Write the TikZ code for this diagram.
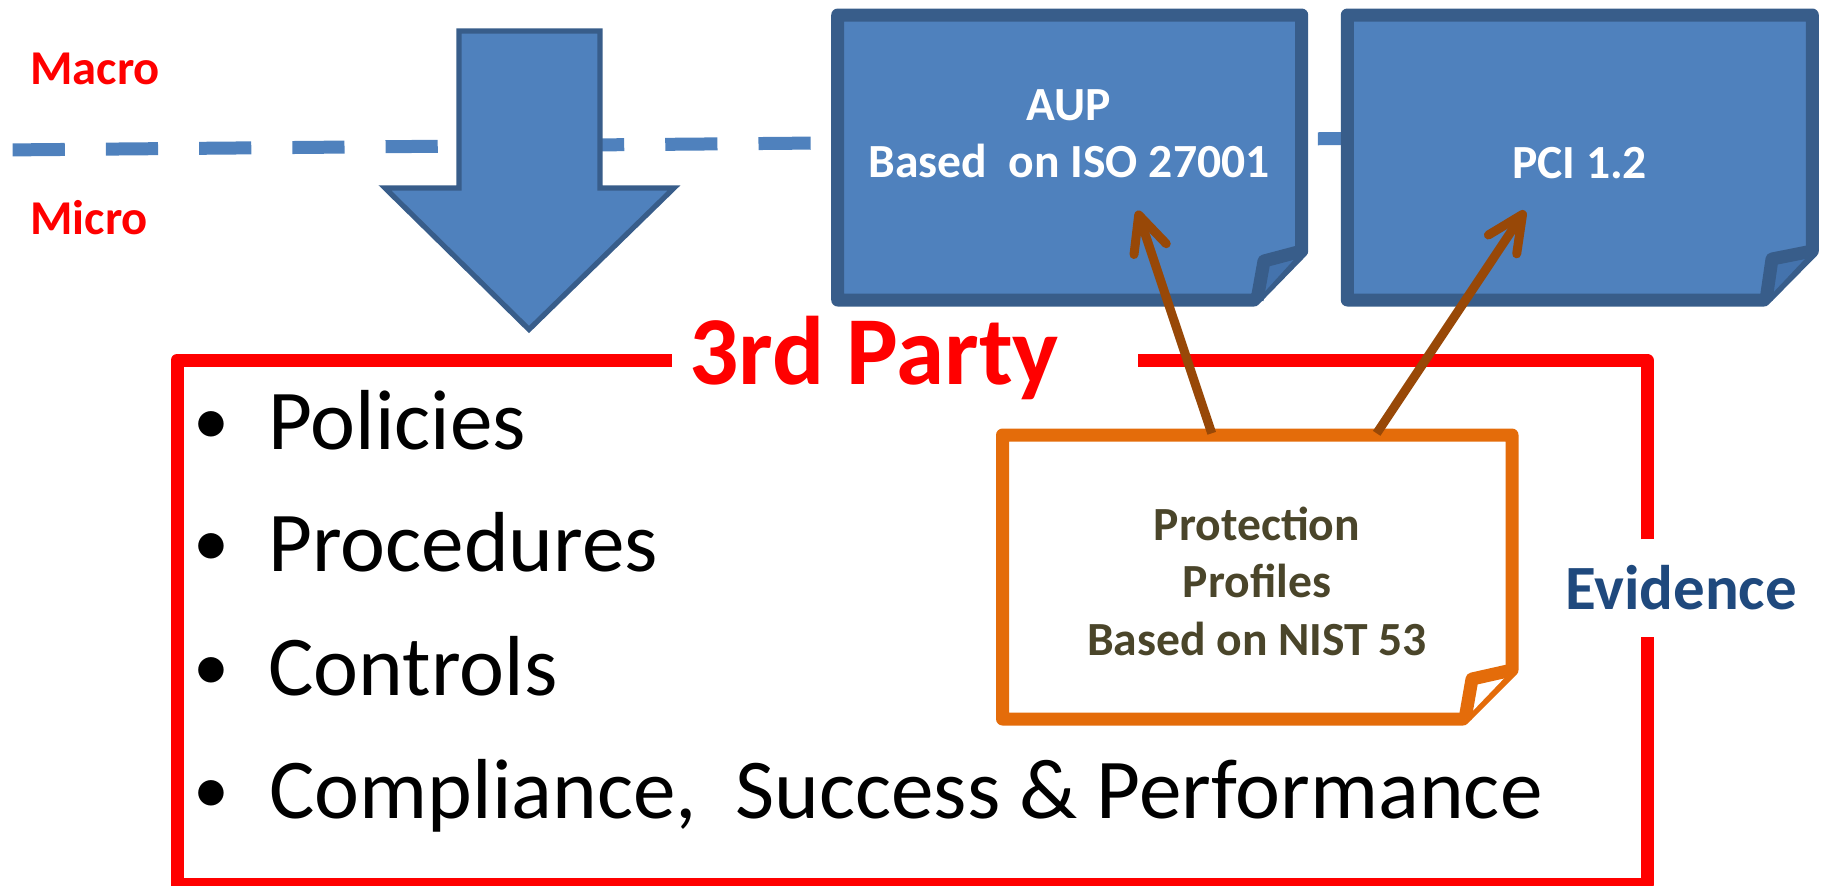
\documentclass[tikz,border=0pt]{standalone}
\usepackage{fontspec}
\setmainfont{Carlito}
\usetikzlibrary{arrows.meta}
\definecolor{noteblue}{HTML}{4F81BD}
\definecolor{noteedge}{HTML}{385D8A}
\definecolor{noteflap}{HTML}{4473AD}
\definecolor{ppedge}{HTML}{E46C0A}
\definecolor{linkbrown}{HTML}{984807}
\definecolor{pptext}{HTML}{4A452A}
\definecolor{evblue}{HTML}{1F497D}
\begin{document}
\begin{tikzpicture}[x=0.5pt,y=-0.5pt,
  lblsmall/.style={font=\fontsize{23.8}{28.75}\selectfont\bfseries, inner sep=0pt},
  redlbl/.style={lblsmall, text=red, anchor=base west},
  whitelbl/.style={lblsmall, text=white, anchor=base},
  pplbl/.style={lblsmall, text=pptext, anchor=base},
  notebody/.style={draw=noteedge, fill=noteblue, line width=6.5pt, line join=round},
  noteflapst/.style={draw=noteedge, fill=noteflap, line width=6.5pt, line join=round},
  ppbody/.style={draw=ppedge, fill=white, line width=6.5pt, line join=round},
  redframe/.style={draw=red, line width=6.5pt, line join=round},
  bigitem/.style={font=\fontsize{42.6}{50}\selectfont, inner sep=0pt, anchor=base west},
  bulletmark/.style={font=\fontsize{36}{40}\selectfont, inner sep=0pt, anchor=base},
  linkarrow/.style={draw=linkbrown, line width=4.5pt, -{Straight Barb[length=18pt,width=17pt,round]}}
]
\useasboundingbox (0,0) rectangle (1827,885);

% Macro / Micro separator
\coordinate (sepA) at (12.6,149.9);
\coordinate (sepB) at (1371,138.3);
\draw[noteblue, line width=6.5pt, dash pattern=on 26.1pt off 20.52pt] (sepA) -- (sepB);
\node[redlbl, font=\fontsize{24.3}{29}\selectfont\bfseries] (macro) at (30,84) {Macro};
\node[redlbl, font=\fontsize{24.3}{29}\selectfont\bfseries] (micro) at (30,234) {Micro};

% big down arrow
\draw[draw=noteedge, fill=noteblue, line width=2.6pt, line join=miter]
  (459,31) -- (600,31) -- (600,188) -- (674,188) -- (529,329.5) -- (385,188) -- (459,188) -- cycle;

% AUP note
\draw[notebody] (837.7,15) -- (1301.7,15) -- (1301.7,251) -- (1254,300) -- (837.7,300) -- cycle;
\draw[noteflapst] (1301.7,251) -- (1264,261) -- (1257,300);
\node[whitelbl] (aup) at (1069,120) {\begin{tabular}[t]{@{}c@{}}AUP\\Based\ \ on ISO 27001\end{tabular}};

% PCI note
\draw[notebody] (1347.3,15) -- (1812.3,15) -- (1812.3,251) -- (1764,300) -- (1347.3,300) -- cycle;
\draw[noteflapst] (1812.3,251) -- (1772,259) -- (1766,300);
\node[whitelbl] (pci) at (1579.5,178) {PCI 1.2};

% red frame
\draw[redframe] (672,360) -- (177,360) -- (177,884) -- (1647,884) -- (1647,636.7);
\draw[redframe] (1647,539.3) -- (1647,360) -- (1138,360);
\node[font=\fontsize{48.7}{57}\selectfont\bfseries, text=red, inner sep=0pt, anchor=base west] (third) at (689,384) {3rd Party};
\node[font=\fontsize{31.5}{38}\selectfont\bfseries, text=evblue, inner sep=0pt, anchor=base] (evid) at (1681,609) {Evidence};

% bullet list
\node[bulletmark] (m1) at (211,444) {•};
\node[bigitem] (i1) at (268,449) {Policies};
\node[bulletmark] (m2) at (211,566.5) {•};
\node[bigitem] (i2) at (268,571.5) {Procedures};
\node[bulletmark] (m3) at (211,690) {•};
\node[bigitem] (i3) at (268,695) {Controls};
\node[bulletmark] (m4) at (211,813) {•};
\node[bigitem] (i4) at (269,818) {Compliance,\ \ Success \& Performance};

% protection profiles note
\draw[ppbody] (1002.5,435) -- (1512,435) -- (1512,670) -- (1463,719) -- (1002.5,719) -- cycle;
\draw[ppbody] (1512,670) -- (1472,679) -- (1465,719);
\node[pplbl] (prot) at (1257,540) {\begin{tabular}[t]{@{}c@{}}Protection\\Profiles\\Based on NIST 53\end{tabular}};

% links
\coordinate (s1) at (1211.7,433.3);
\coordinate (t1) at (1137.3,210.7);
\coordinate (s2) at (1376.7,433.3);
\coordinate (t2) at (1525,210.7);
\draw[linkarrow] (s1) -- (t1);
\draw[linkarrow] (s2) -- (t2);
\end{tikzpicture}
\end{document}
